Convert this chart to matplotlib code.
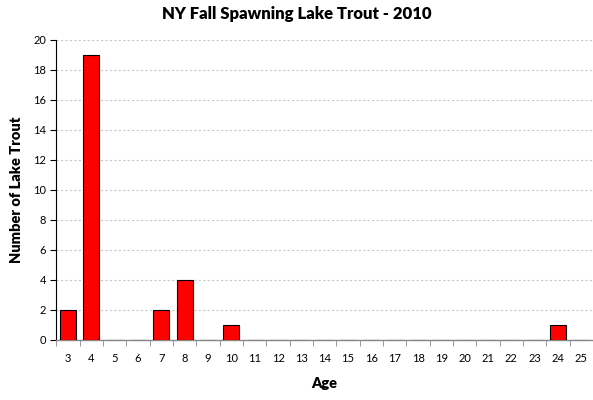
import numpy as np
import matplotlib
matplotlib.use('agg')
from matplotlib import pyplot as plt

ages = list(range(3, 26))
counts = [2, 19, 0, 0, 2, 4, 0, 1, 0, 0, 0, 0, 0, 0, 0, 0, 0, 0, 0, 0, 0, 1, 0]
y_ticks = np.arange(0, 21, 2)

plt.rcParams['font.family'] = ['Lato', 'DejaVu Sans']

fig = plt.figure(figsize=(5.93, 4.0), dpi=100)
ax = fig.add_axes([0.095, 0.15, 0.905, 0.75])

x = np.arange(len(ages))
ax.bar(x, counts, width=0.68, color='#ff0000', edgecolor='black', linewidth=0.8, zorder=3)

ax.set_xlim(-0.5, len(ages) - 0.5)
ax.set_ylim(0, 20)
ax.set_yticks(y_ticks)
ax.set_yticklabels([str(v) for v in y_ticks], fontsize=8)
ax.set_xticks(x)
ax.set_xticklabels([str(a) for a in ages], fontsize=8)
ax.tick_params(axis='x', length=0, pad=9)
ax.set_xticks(np.arange(-0.5, len(ages), 1), minor=True)
ax.tick_params(axis='x', which='minor', length=4, color='#888888', direction='out')
ax.tick_params(axis='y', length=4, width=0.8, direction='out')

ax.yaxis.grid(True, linestyle=(0, (2, 2)), color='#c8c8c8', linewidth=0.8, zorder=0)

for s in ['top', 'right']:
    ax.spines[s].set_visible(False)
ax.spines['left'].set_color('black')
ax.spines['bottom'].set_color('#888888')
ax.spines['bottom'].set_linewidth(1.0)

ax.set_xlabel('Age', fontsize=10.5, fontweight='heavy', labelpad=10)
ax.set_ylabel('Number of Lake Trout', fontsize=10.5, fontweight='heavy', labelpad=7)
fig.suptitle('NY Fall Spawning Lake Trout - 2010', fontsize=12, fontweight='heavy', y=0.985)

plt.savefig('out.png', dpi=100)
